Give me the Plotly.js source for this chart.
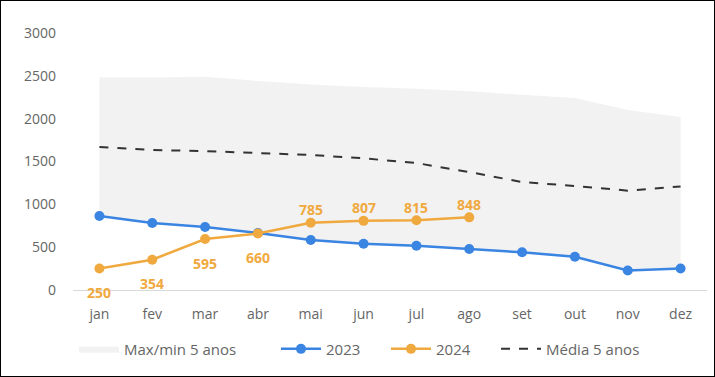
<!DOCTYPE html>
<html><head><meta charset="utf-8">
<script src="https://cdn.plot.ly/plotly-3.0.1.min.js"></script>
<style>html,body{margin:0;padding:0;background:#fff}#c{width:713px;height:375px;border:1px solid #000}</style>
</head><body><div id="c"></div>
<script>
const months = ['jan','fev','mar','abr','mai','jun','jul','ago','set','out','nov','dez'];
const max5 = [2480,2480,2490,2440,2400,2370,2350,2320,2280,2240,2100,2020];
const min5 = [864,782,735,665,584,540,516,479,440,388,228,250];
const s2023 = [864,782,735,665,584,540,516,479,440,388,228,250];
const months2024 = ['jan','fev','mar','abr','mai','jun','jul','ago'];
const s2024 = [250,354,595,660,785,807,815,848];
const media5 = [1669,1634,1622,1599,1576,1537,1482,1377,1260,1214,1160,1208];
const labelBelow = [true,true,true,true,false,false,false,false];

const font = 'Open Sans, Lato, sans-serif';
const orange = '#f0a93e', blue = '#3a84e2';
const traces = [
  {x: months, y: min5, type:'scatter', mode:'lines', line:{width:0, color:'#f2f2f2'}, showlegend:false, hoverinfo:'skip'},
  {x: months, y: max5, type:'scatter', mode:'lines', fill:'tonexty', fillcolor:'#f2f2f2', line:{width:0, color:'#f2f2f2'}, name:'Max/min 5 anos', legend:'legend'},
  {x: months, y: s2023, type:'scatter', mode:'lines+markers', name:'2023', line:{color:blue, width:2.5}, marker:{size:10, color:blue}, legend:'legend2'},
  {x: months2024, y: s2024, type:'scatter', mode:'lines+markers', name:'2024', line:{color:orange, width:2.5}, marker:{size:10, color:orange}, legend:'legend3'},
  {x: months, y: media5, type:'scatter', mode:'lines', name:'Média 5 anos', line:{color:'#333333', width:2, dash:'dash'}, legend:'legend4'}
];
const annotations = months2024.map((m,i)=>({
  x:m, y:s2024[i], xref:'x', yref:'y', text:String(s2024[i]), showarrow:false,
  yshift: labelBelow[i] ? -24 : 13,
  font:{family:font, size:14, color:orange, weight:'bold'}
}));
function leg(px){
  return {orientation:'h', x:(px-73)/634, xanchor:'left', y:-0.23, yanchor:'middle', font:{size:15, color:'#666'}, itemwidth:40, bgcolor:'rgba(0,0,0,0)'};
}
const layout = {
  width:713, height:375,
  margin:{l:72, r:7, t:32, b:86},
  paper_bgcolor:'#fff', plot_bgcolor:'#fff',
  font:{family:font, color:'#666', size:14},
  xaxis:{type:'category', categoryarray:months, range:[-0.5,11.5], showgrid:false, zeroline:false, showline:false, ticks:'', tickfont:{size:14, color:'#666'}, ticklabelstandoff:14},
  yaxis:{range:[0,3000], dtick:500, showgrid:false, zeroline:true, zerolinecolor:'#d9d9d9', zerolinewidth:1, showline:false, ticks:'', tickfont:{size:14, color:'#666'}, ticklabelstandoff:16},
  legend: leg(74), legend2: leg(276), legend3: leg(386), legend4: leg(496),
  annotations: annotations,
  showlegend:true
};
Plotly.newPlot('c', traces, layout, {displayModeBar:false, staticPlot:true});
</script></body></html>
